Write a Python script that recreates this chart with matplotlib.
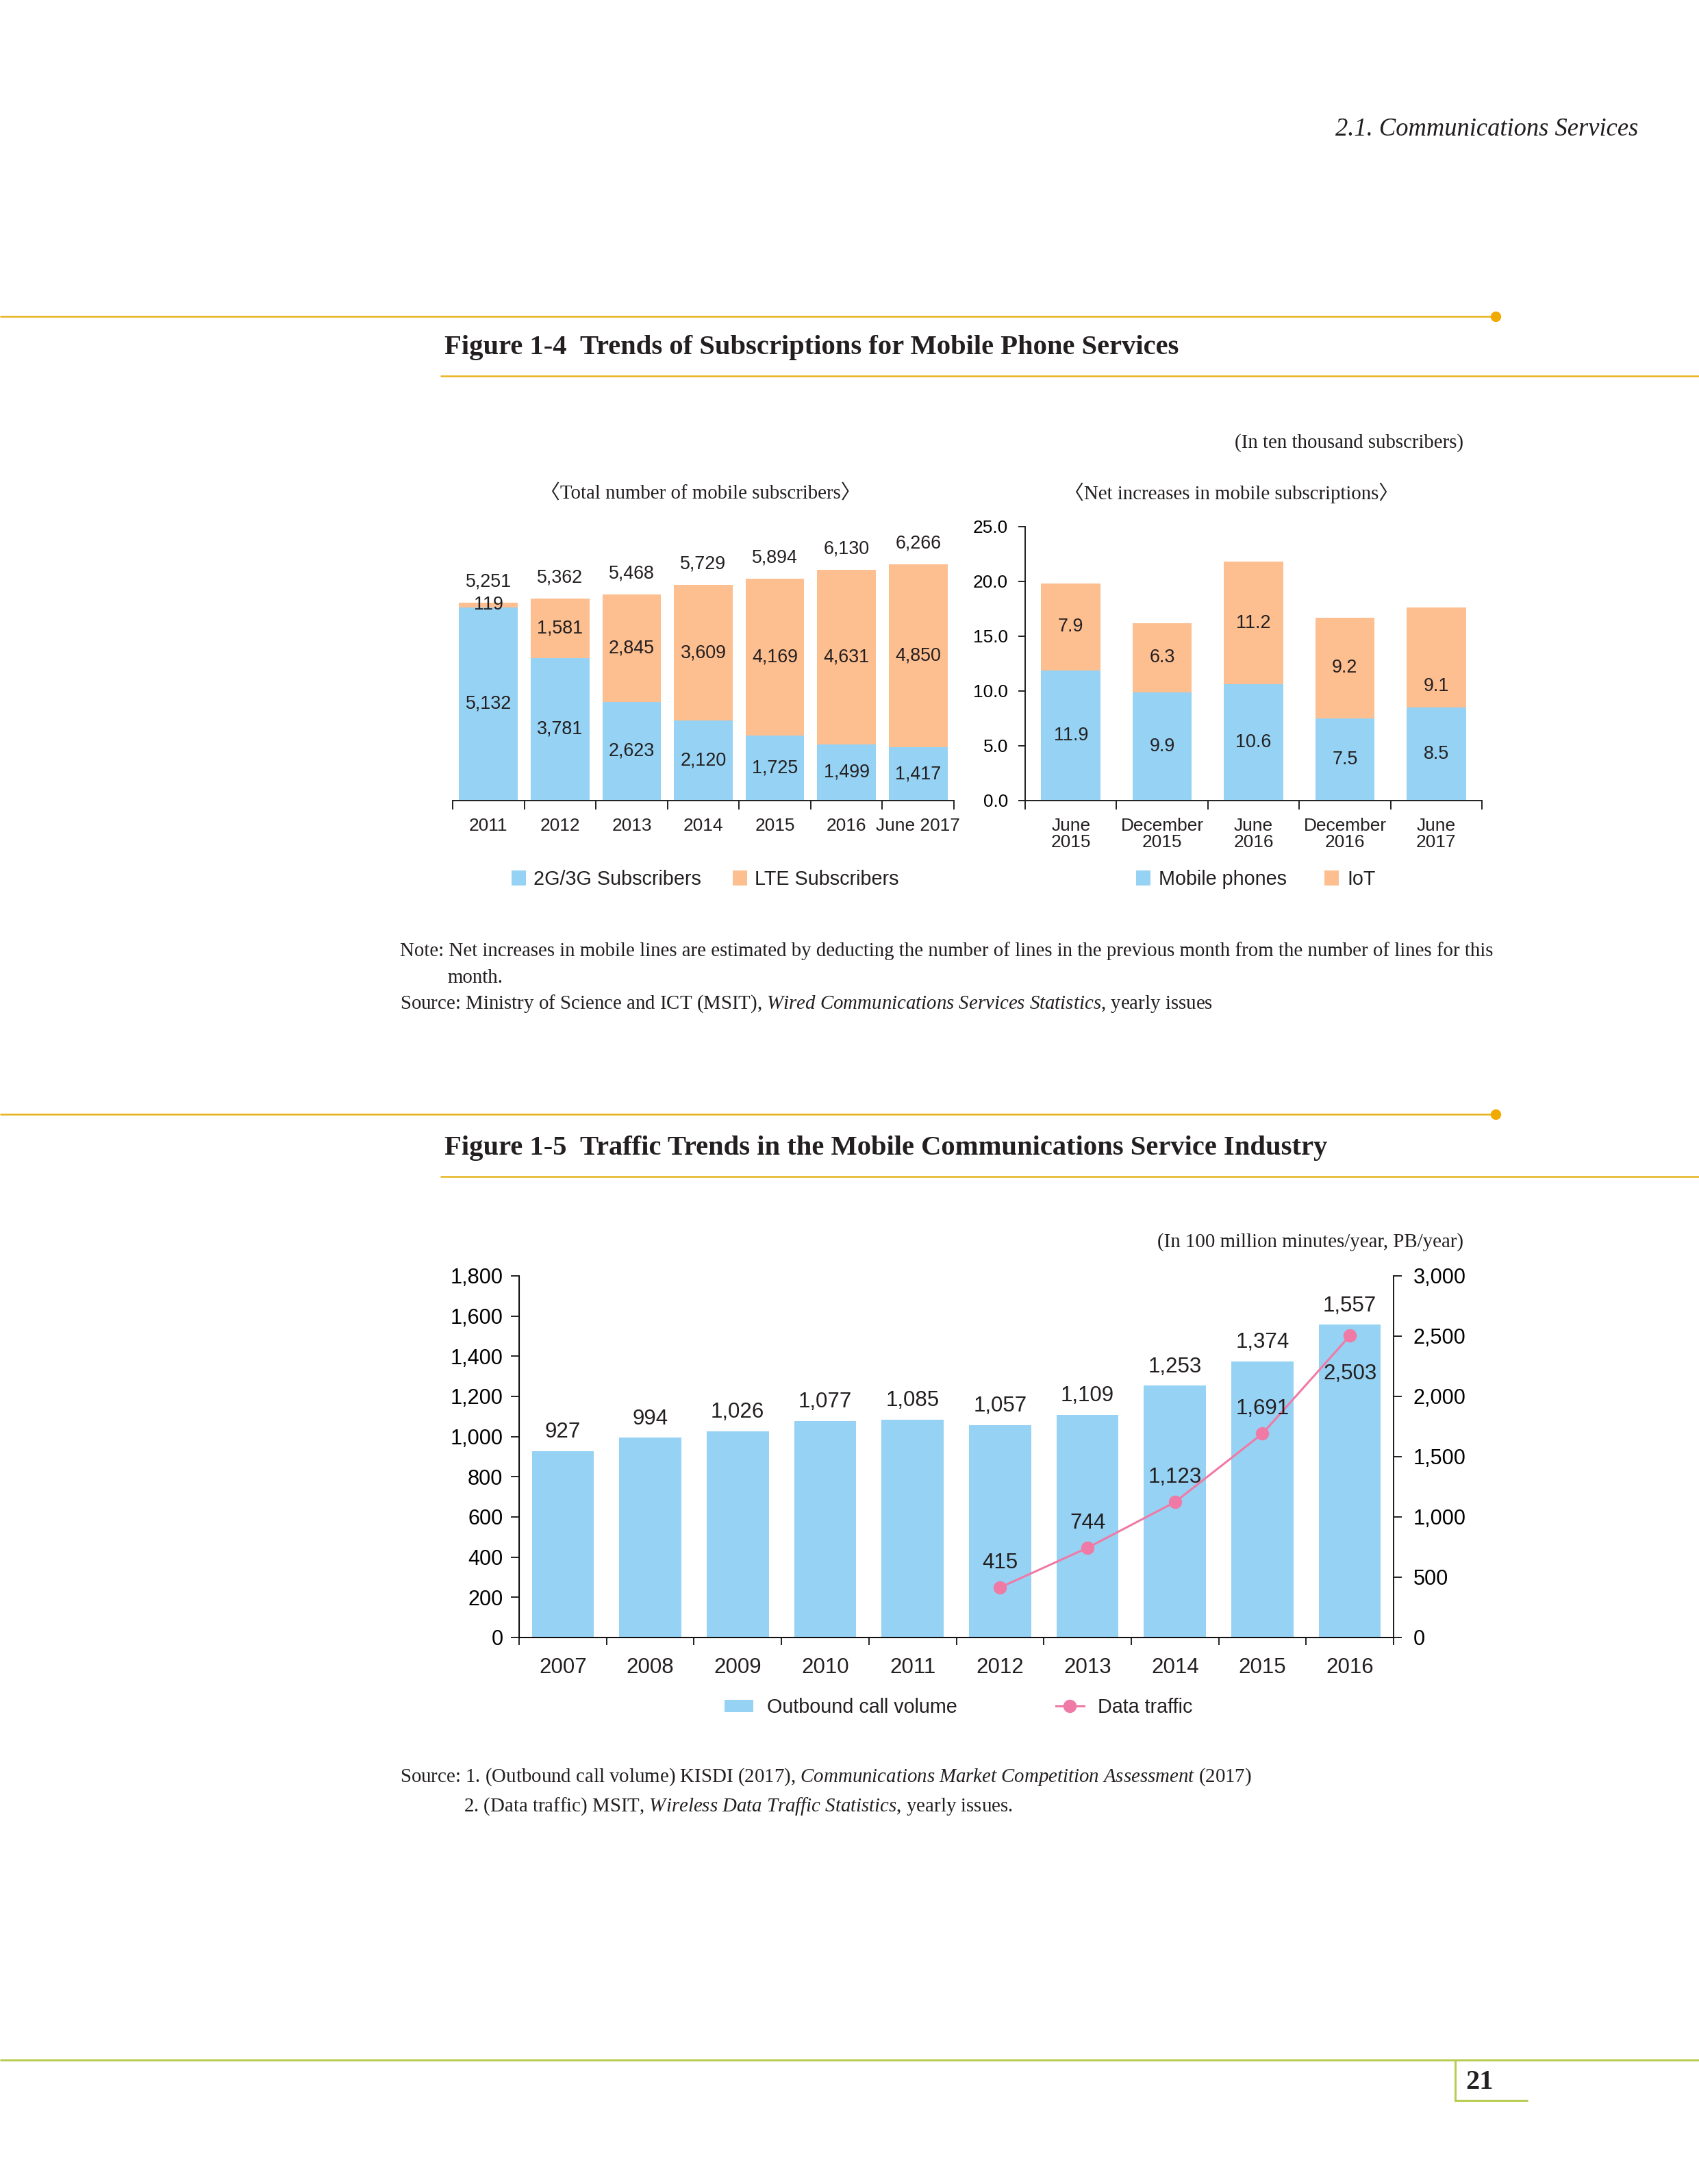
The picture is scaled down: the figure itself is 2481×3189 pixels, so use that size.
import numpy as np
import matplotlib
matplotlib.use('Agg')
import matplotlib.pyplot as plt
from matplotlib import font_manager
from matplotlib.lines import Line2D
from matplotlib.ticker import FuncFormatter

# ---- data ----
sub_years = ['2011', '2012', '2013', '2014', '2015', '2016', 'June 2017']
sub_2g3g = [5132, 3781, 2623, 2120, 1725, 1499, 1417]
sub_lte = [119, 1581, 2845, 3609, 4169, 4631, 4850]
sub_total = [5251, 5362, 5468, 5729, 5894, 6130, 6266]

net_periods = ['June\n2015', 'December\n2015', 'June\n2016', 'December\n2016', 'June\n2017']
net_phones = [11.9, 9.9, 10.6, 7.5, 8.5]
net_iot = [7.9, 6.3, 11.2, 9.2, 9.1]

traffic_years = ['2007', '2008', '2009', '2010', '2011', '2012', '2013', '2014', '2015', '2016']
call_volume = [927, 994, 1026, 1077, 1085, 1057, 1109, 1253, 1374, 1557]
data_years = ['2012', '2013', '2014', '2015', '2016']
data_traffic = [415, 744, 1123, 1691, 2503]

# ---- style ----
BLUE = '#96D2F3'
ORANGE = '#FDBE90'
PINK = '#F07AA6'
GOLD = '#E6B21C'
GOLD_DOT = '#F0AA00'
GREEN = '#B9CD55'
INK = '#231F20'

names = {f.name for f in font_manager.fontManager.ttflist}
if 'Liberation Sans Narrow' in names:
    SANS, k = 'Liberation Sans Narrow', 1.0
else:
    SANS, k = 'Liberation Sans', 0.9
SERIF = ['Liberation Serif', 'Noto Sans CJK JP', 'DejaVu Serif']

plt.rcParams['font.family'] = [SANS, 'DejaVu Sans']
plt.rcParams['text.color'] = INK
plt.rcParams['mathtext.fontset'] = 'custom'
plt.rcParams['mathtext.rm'] = 'Liberation Serif'
plt.rcParams['mathtext.it'] = 'Liberation Serif:italic'

W, H = 2481, 3189
fig = plt.figure(figsize=(W / 100, H / 100), dpi=100)
renderer = fig.canvas.get_renderer()


def px_axes(x0, y0, x1, y1):
    return fig.add_axes([x0 / W, 1 - y1 / H, (x1 - x0) / W, (y1 - y0) / H])


def ftext(x, y, s, **kw):
    return fig.text(x / W, 1 - y / H, s, **kw)


def fit(t, target):
    w = t.get_window_extent(renderer).width
    t.set_fontsize(t.get_fontsize() * target / w)
    return t.get_fontsize()


def hline(x0, x1, y, color, lw=1.8):
    fig.add_artist(Line2D([x0 / W, x1 / W], [1 - y / H, 1 - y / H], color=color, lw=lw,
                          transform=fig.transFigure, solid_capstyle='butt'))


def vline(x, y0, y1, color, lw=1.8):
    fig.add_artist(Line2D([x / W, x / W], [1 - y0 / H, 1 - y1 / H], color=color, lw=lw,
                          transform=fig.transFigure))


def dot(x, y):
    fig.add_artist(Line2D([x / W], [1 - y / H], marker='o', ms=10, color=GOLD_DOT,
                          transform=fig.transFigure))


def cat_axis(ax, n, tick_len, pad, size):
    ax.set_xlim(-0.5, n - 0.5)
    ax.set_xticks(np.arange(-0.5, n))
    ax.tick_params(axis='x', which='major', length=tick_len, width=1.4, color=INK,
                   direction='out', labelbottom=False)
    ax.tick_params(axis='x', which='minor', length=0, pad=pad, labelsize=size, labelcolor=INK)
    ax.spines['bottom'].set_linewidth(1.4)
    ax.spines['bottom'].set_color(INK)
    ax.spines['top'].set_visible(False)


# ---- page decoration ----
t = ftext(2392, 189, '2.1. Communications Services', ha='right', va='center',
          family=SERIF, style='italic', size=26)
fit(t, 443)

hline(0, 2182, 462, GOLD)
dot(2184, 462)
hline(643, 2481, 549, GOLD)
hline(0, 2182, 1627, GOLD)
dot(2184, 1627)
hline(643, 2481, 1718, GOLD)

t = ftext(649, 508, 'Figure 1-4  Trends of Subscriptions for Mobile Phone Services',
          ha='left', va='center', family=SERIF, weight='bold', size=28)
fit(t, 1075)
t = ftext(649, 1676, 'Figure 1-5  Traffic Trends in the Mobile Communications Service Industry',
          ha='left', va='center', family=SERIF, weight='bold', size=28)
fit(t, 1293)

t = ftext(584, 1389, 'Note: Net increases in mobile lines are estimated by deducting the number of '
          'lines in the previous month from the number of lines for this',
          ha='left', va='center', family=SERIF, size=20)
body = fit(t, 1598)
ftext(653, 1428, 'month.', ha='left', va='center', family=SERIF, size=body)
ftext(584, 1466, r'Source: Ministry of Science and ICT (MSIT), '
      r'$\mathit{Wired\ Communications\ Services\ Statistics}$, yearly issues',
      ha='left', va='center', family=SERIF, size=body)
ftext(2137, 647, '(In ten thousand subscribers)', ha='right', va='center', family=SERIF, size=body)
ftext(1023, 720, '〈Total number of mobile subscribers〉', ha='center', va='center',
      family=SERIF, size=body)
ftext(1798, 720, '〈Net increases in mobile subscriptions〉', ha='center', va='center',
      family=SERIF, size=body)

ftext(2137, 1814, '(In 100 million minutes/year, PB/year)', ha='right', va='center',
      family=SERIF, size=body)
ftext(584, 2595, r'Source: 1. (Outbound call volume) KISDI (2017), '
      r'$\mathit{Communications\ Market\ Competition\ Assessment}$ (2017)',
      ha='left', va='center', family=SERIF, size=body)
ftext(677, 2638, r'2. (Data traffic) MSIT, $\mathit{Wireless\ Data\ Traffic\ Statistics}$, yearly issues.',
      ha='left', va='center', family=SERIF, size=body)

hline(0, 2481, 3008, GREEN, lw=2.2)
vline(2125, 3008, 3067, GREEN, lw=2.2)
hline(2125, 2231, 3067, GREEN, lw=2.2)
ftext(2140, 3040, '21', ha='left', va='center', family=SERIF, weight='bold', size=29)

# ---- Figure 1-4 left: total subscribers ----
ax1 = px_axes(661, 769, 1393, 1169)
x = np.arange(len(sub_years))
ax1.bar(x, sub_2g3g, 0.82, color=BLUE, label='2G/3G Subscribers')
ax1.bar(x, sub_lte, 0.82, bottom=sub_2g3g, color=ORANGE, label='LTE Subscribers')
ax1.set_ylim(0, 7270)
ax1.set_yticks([])
for s in ['left', 'right']:
    ax1.spines[s].set_visible(False)
cat_axis(ax1, len(sub_years), 9.4, 18, 21 * k)
ax1.set_xticks(x, sub_years, minor=True)
vs = 21.5 * k
for i in range(len(x)):
    ax1.text(x[i], sub_2g3g[i] / 2, f'{sub_2g3g[i]:,}', ha='center', va='center', size=vs)
    ax1.text(x[i], sub_2g3g[i] + sub_lte[i] / 2, f'{sub_lte[i]:,}', ha='center', va='center', size=vs)
    ax1.annotate(f'{sub_total[i]:,}', (x[i], sub_2g3g[i] + sub_lte[i]), xytext=(0, 22),
                 textcoords='offset points', ha='center', va='center', size=vs)
fig.legend(*ax1.get_legend_handles_labels(), loc='center', ncol=2, frameon=False,
           bbox_to_anchor=(1030 / W, 1 - 1284 / H), fontsize=23 * k,
           handlelength=0.72, handleheight=0.75, handletextpad=0.4, columnspacing=1.6)

# ---- Figure 1-4 right: net increases ----
ax2 = px_axes(1497, 769, 2164, 1169)
x2 = np.arange(len(net_periods))
ax2.bar(x2, net_phones, 0.65, color=BLUE, label='Mobile phones')
ax2.bar(x2, net_iot, 0.65, bottom=net_phones, color=ORANGE, label='IoT')
ax2.set_ylim(0, 25)
ax2.set_yticks(np.arange(0, 26, 5))
ax2.yaxis.set_major_formatter(FuncFormatter(lambda v, p: f'{v:.1f}'))
ax2.tick_params(axis='y', length=7, width=1.4, color=INK, pad=11, labelsize=21 * k)
ax2.spines['right'].set_visible(False)
ax2.spines['left'].set_linewidth(1.4)
ax2.spines['left'].set_color(INK)
cat_axis(ax2, len(net_periods), 9, 18, 21 * k)
ax2.set_xticks(x2, net_periods, minor=True)
for lab in ax2.get_xticklabels(minor=True):
    lab.set_linespacing(1.0)
for i in range(len(x2)):
    ax2.text(x2[i], net_phones[i] / 2, f'{net_phones[i]:.1f}', ha='center', va='center', size=vs)
    dy = -2.6 if i == len(x2) - 1 else 0
    ax2.text(x2[i], net_phones[i] + net_iot[i] / 2 + dy, f'{net_iot[i]:.1f}', ha='center',
             va='center', size=vs)
fig.legend(*ax2.get_legend_handles_labels(), loc='center', ncol=2, frameon=False,
           bbox_to_anchor=(1834 / W, 1 - 1284 / H), fontsize=23 * k,
           handlelength=0.72, handleheight=0.75, handletextpad=0.44, columnspacing=1.9)

# ---- Figure 1-5: traffic ----
ax3 = px_axes(758, 1863, 2035, 2391)
x3 = np.arange(len(traffic_years))
ax3.bar(x3, call_volume, 0.71, color=BLUE, label='Outbound call volume')
ax3.set_ylim(0, 1800)
ax3.set_yticks(np.arange(0, 1801, 200))
ax3.yaxis.set_major_formatter(FuncFormatter(lambda v, p: f'{int(v):,}'))
ax3.tick_params(axis='y', length=8.5, width=1.4, color=INK, pad=8.5, labelsize=24.5 * k)
cat_axis(ax3, len(traffic_years), 8, 21, 25 * k)
ax3.set_xticks(x3, traffic_years, minor=True)
for s in ['left', 'right']:
    ax3.spines[s].set_linewidth(1.4)
    ax3.spines[s].set_color(INK)
for i in range(len(x3)):
    ax3.annotate(f'{call_volume[i]:,}', (x3[i], call_volume[i]), xytext=(0, 20),
                 textcoords='offset points', ha='center', va='center', size=25 * k)

ax4 = ax3.twinx()
ax4.set_ylim(0, 3000)
ax4.set_yticks(np.arange(0, 3001, 500))
ax4.yaxis.set_major_formatter(FuncFormatter(lambda v, p: f'{int(v):,}'))
ax4.tick_params(axis='y', length=8.5, width=1.4, color=INK, pad=12, labelsize=24.5 * k)
ax4.spines['top'].set_visible(False)
ax4.spines['right'].set_linewidth(1.4)
ax4.spines['right'].set_color(INK)
xd = [traffic_years.index(y) for y in data_years]
ax4.plot(xd, data_traffic, color=PINK, lw=2.2, marker='o', ms=13, label='Data traffic')
for i in range(len(xd)):
    off = -40 if i == len(xd) - 1 else 26
    ax4.annotate(f'{data_traffic[i]:,}', (xd[i], data_traffic[i]), xytext=(0, off),
                 textcoords='offset points', ha='center', va='center', size=25 * k)

h3, l3 = ax3.get_legend_handles_labels()
h4, l4 = ax4.get_legend_handles_labels()
fig.legend(h3 + h4, l3 + l4, loc='center', ncol=2, frameon=False,
           bbox_to_anchor=(1400 / W, 1 - 2493 / H), fontsize=23 * k,
           handlelength=1.45, handleheight=0.6, handletextpad=0.7, columnspacing=5.0)

fig.savefig('out.png', dpi=100, facecolor='white')
